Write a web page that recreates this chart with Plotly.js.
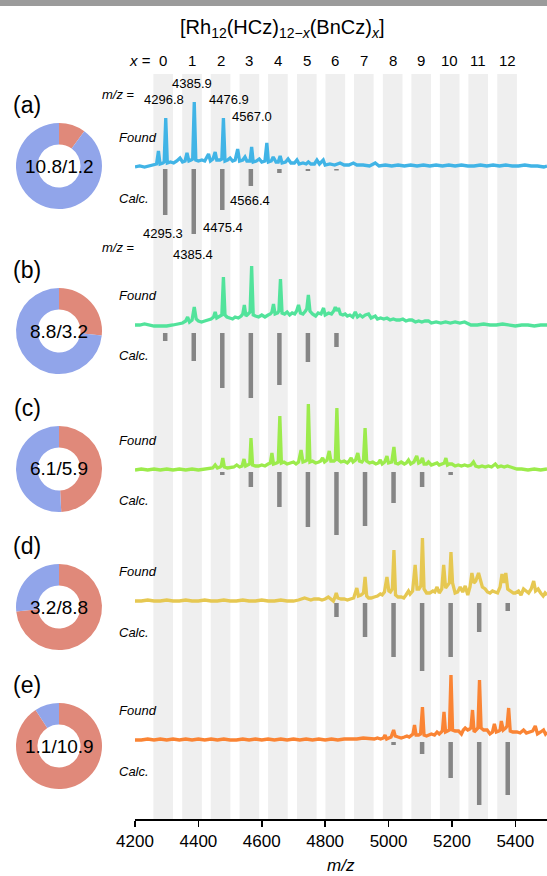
<!DOCTYPE html>
<html><head><meta charset="utf-8">
<script src="https://cdn.plot.ly/plotly-3.0.1.min.js"></script>
<style>html,body{margin:0;padding:0;background:#fff}#chart{width:547px;height:876px}</style>
</head><body><div id="chart"></div>
<script>
// ---------------- DATA ----------------
const compLabels = ["0","1","2","3","4","5","6","7","8","9","10","11","12"];
const bandCenters = [4289,4380,4470,4561,4651,4742,4832,4922,5013,5103,5193,5283,5374];
const calcMz = [4295.3,4385.4,4475.4,4565.5,4655.6,4745.6,4835.7,4925.8,5015.8,5105.9,5196.0,5286.0,5376.1];
const xTicks = [4200,4400,4600,4800,5000,5200,5400];

const calcA = [46,65,41,17,4,2,1.5,0,0,0,0,0,0];
const calcB = [8,28,55,65,52,29,14,0,0,0,0,0,0];
const calcC = [0,0,3,15,35,55,63,54,31,15,3,0,0];
const calcD = [0,0,0,0,0,0,14,34,54,68,54,29,8];
const calcE = [0,0,0,0,0,0,0,0,3,12,36,63,53];

const ratioBlue = [10.8, 8.8, 6.1, 3.2, 1.1];   // HCz
const ratioRed  = [1.2, 3.2, 5.9, 8.8, 10.9];   // BnCz
const panelTags = ["(a)","(b)","(c)","(d)","(e)"];

const foundA = [[4200,0],[4215,1],[4230,0],[4245,1],[4260,2],[4268,3],[4274,16],[4279,3],[4288,4],[4292,5],[4297,49],[4302,4],[4312,5],[4322,4],[4332,6],[4342,9],[4350,5],[4358,6],[4364,14],[4370,6],[4377,7],[4382,8],[4387,65],[4392,7],[4400,6],[4411,7],[4420,6],[4426,9],[4432,13],[4438,6],[4446,8],[4453,15],[4458,7],[4468,7],[4474,8],[4479,49],[4484,6],[4492,7],[4500,9],[4508,6],[4516,7],[4524,18],[4530,6],[4540,7],[4547,10],[4553,6],[4563,6],[4568,20],[4573,5],[4583,6],[4592,8],[4600,5],[4610,6],[4616,24],[4621,5],[4630,6],[4636,10],[4645,5],[4652,5],[4658,11],[4664,4],[4675,5],[4683,8],[4692,4],[4703,4],[4711,7],[4718,3],[4730,4],[4740,3],[4747,5],[4755,3],[4766,3],[4774,7],[4782,3],[4794,7],[4800,2],[4815,3],[4830,2],[4847,4],[4860,2],[4875,2],[4889,4],[4900,2],[4920,2],[4940,1],[4958,4],[4970,1],[4990,2],[5010,1],[5030,2],[5050,1],[5070,2],[5090,1],[5110,2],[5130,1],[5150,2],[5170,1],[5190,2],[5210,1],[5230,2],[5250,1],[5270,1],[5290,2],[5310,1],[5330,2],[5350,1],[5370,2],[5390,1],[5410,1],[5430,2],[5450,1],[5470,1],[5490,0],[5500,1]];

const foundB = [[4200,0],[4215,0],[4230,1],[4245,0],[4260,-1],[4280,-1],[4300,-1],[4320,0],[4335,1],[4350,2],[4360,4],[4366,8],[4372,3],[4380,5],[4387,18],[4393,6],[4400,4],[4410,3],[4420,4],[4432,5],[4440,6],[4448,8],[4453,13],[4458,7],[4466,9],[4474,10],[4479,48],[4484,10],[4490,8],[4500,7],[4508,6],[4516,8],[4526,7],[4535,9],[4540,11],[4545,20],[4550,9],[4557,11],[4563,13],[4568,59],[4573,10],[4580,9],[4590,8],[4600,10],[4610,8],[4620,10],[4627,11],[4632,13],[4637,21],[4642,11],[4650,12],[4654,14],[4659,46],[4664,12],[4672,11],[4680,13],[4688,10],[4696,12],[4704,11],[4710,14],[4716,20],[4722,12],[4730,11],[4738,14],[4742,16],[4747,30],[4752,14],[4760,11],[4770,9],[4778,12],[4787,11],[4795,17],[4800,10],[4811,12],[4820,11],[4827,14],[4832,18],[4837,14],[4842,17],[4848,11],[4856,10],[4863,11],[4870,9],[4878,10],[4887,8],[4895,13],[4902,8],[4910,10],[4918,8],[4927,10],[4937,11],[4945,7],[4952,8],[4958,9],[4965,6],[4975,7],[4985,6],[4995,7],[5005,5],[5015,6],[5025,5],[5035,5],[5045,6],[5055,4],[5065,5],[5074,5],[5085,3],[5095,4],[5105,3],[5115,4],[5126,4],[5135,2],[5150,3],[5165,2],[5180,3],[5195,2],[5210,3],[5225,2],[5240,3],[5253,1],[5260,0],[5280,0],[5300,1],[5320,0],[5340,0],[5360,1],[5380,0],[5400,-1],[5420,0],[5440,0],[5460,-1],[5480,0],[5500,0]];

const foundC = [[4200,0],[4220,1],[4240,0],[4260,1],[4280,0],[4300,1],[4320,0],[4340,1],[4360,0],[4380,1],[4400,0],[4420,1],[4435,2],[4445,2],[4453,5],[4460,2],[4468,3],[4472,4],[4477,12],[4482,3],[4492,2],[4503,3],[4512,3],[4521,5],[4530,3],[4538,4],[4544,11],[4549,4],[4558,5],[4562,6],[4566,32],[4571,5],[4580,4],[4590,4],[4600,5],[4610,4],[4620,6],[4627,7],[4632,17],[4637,6],[4647,7],[4652,8],[4657,54],[4662,7],[4670,8],[4680,6],[4690,7],[4700,8],[4708,6],[4716,8],[4724,20],[4730,8],[4738,9],[4743,10],[4747,66],[4752,8],[4760,9],[4770,7],[4780,8],[4786,9],[4792,12],[4798,8],[4806,10],[4813,19],[4818,9],[4828,9],[4832,10],[4837,62],[4842,10],[4850,8],[4860,9],[4870,7],[4876,9],[4882,12],[4888,8],[4896,10],[4903,17],[4908,9],[4916,8],[4921,10],[4926,42],[4931,9],[4940,7],[4950,8],[4960,6],[4968,7],[4974,10],[4980,6],[4988,8],[4995,14],[5000,7],[5010,8],[5017,23],[5022,7],[5030,6],[5040,8],[5050,6],[5056,7],[5063,10],[5070,6],[5080,8],[5089,14],[5095,7],[5101,8],[5107,12],[5112,6],[5120,6],[5126,8],[5135,5],[5145,6],[5153,7],[5160,5],[5170,6],[5176,7],[5181,12],[5186,5],[5192,6],[5200,6],[5210,4],[5220,5],[5230,4],[5240,5],[5250,4],[5260,5],[5268,8],[5275,4],[5285,3],[5295,4],[5305,3],[5315,4],[5325,3],[5337,6],[5345,3],[5355,4],[5365,3],[5375,4],[5385,3],[5395,2],[5405,1],[5420,1],[5440,0],[5460,1],[5480,0],[5500,1]];

const foundD = [[4200,0],[4220,0],[4240,1],[4260,0],[4280,0],[4300,1],[4320,0],[4340,0],[4360,1],[4380,0],[4400,0],[4420,1],[4440,0],[4460,0],[4480,1],[4500,0],[4520,0],[4540,1],[4560,0],[4580,0],[4600,1],[4620,0],[4640,0],[4660,1],[4680,0],[4700,0],[4716,1],[4725,2],[4735,3],[4745,2],[4755,1],[4765,2],[4780,2],[4790,1],[4800,2],[4810,4],[4818,2],[4826,0],[4830,3],[4835,8],[4840,3],[4850,2],[4860,2],[4870,1],[4880,2],[4890,3],[4900,13],[4905,5],[4913,6],[4921,8],[4926,24],[4931,5],[4937,3],[4945,3],[4955,4],[4965,5],[4974,7],[4980,6],[4987,9],[4995,24],[5001,10],[5006,9],[5012,12],[5017,51],[5022,6],[5030,4],[5040,4],[5048,3],[5055,6],[5063,10],[5068,7],[5076,10],[5084,36],[5090,12],[5096,12],[5102,15],[5107,63],[5112,12],[5120,8],[5130,8],[5140,10],[5146,9],[5153,14],[5160,8],[5168,12],[5174,36],[5180,13],[5186,15],[5192,18],[5197,49],[5202,18],[5210,8],[5218,9],[5226,14],[5234,9],[5242,15],[5250,6],[5257,14],[5263,28],[5269,18],[5275,20],[5284,28],[5290,20],[5296,14],[5305,12],[5312,9],[5320,8],[5328,10],[5336,9],[5344,8],[5352,14],[5358,27],[5364,18],[5370,28],[5376,12],[5386,10],[5394,8],[5400,8],[5410,10],[5418,6],[5426,12],[5434,10],[5442,8],[5450,12],[5458,20],[5464,10],[5472,12],[5480,8],[5488,5],[5494,8],[5500,6]];

const foundE = [[4200,0],[4220,0],[4240,1],[4260,0],[4280,1],[4300,0],[4320,1],[4340,0],[4360,1],[4380,0],[4400,1],[4420,0],[4440,1],[4460,0],[4480,1],[4500,0],[4520,0],[4540,1],[4560,0],[4580,1],[4600,0],[4620,1],[4640,0],[4660,1],[4680,0],[4700,1],[4720,0],[4740,1],[4760,0],[4780,1],[4800,0],[4820,1],[4840,0],[4860,1],[4880,1],[4900,1],[4920,2],[4940,1],[4955,1],[4965,2],[4975,1],[4984,2],[4989,5],[4994,1],[5000,2],[5008,3],[5016,10],[5021,4],[5030,3],[5040,2],[5050,3],[5058,4],[5065,3],[5072,5],[5077,6],[5082,15],[5087,5],[5095,5],[5101,6],[5107,33],[5112,5],[5120,4],[5126,5],[5135,6],[5145,5],[5153,8],[5160,6],[5165,8],[5170,9],[5175,28],[5180,8],[5186,9],[5192,10],[5197,66],[5202,10],[5210,9],[5221,9],[5230,6],[5236,10],[5242,12],[5250,10],[5256,11],[5260,12],[5265,30],[5270,8],[5276,10],[5282,12],[5287,60],[5292,12],[5300,10],[5311,10],[5320,6],[5328,8],[5334,16],[5340,8],[5348,9],[5352,10],[5356,19],[5362,10],[5370,12],[5374,14],[5379,32],[5384,9],[5392,8],[5405,8],[5415,7],[5426,10],[5435,7],[5445,8],[5455,9],[5463,14],[5470,6],[5480,8],[5489,10],[5495,6],[5500,8]];

// ---------------- LAYOUT / STYLE ----------------
const W = 547, H = 876;
const px = v => v / W, py = v => 1 - v / H;
const FONT = "Liberation Sans, Arial, Helvetica, sans-serif";
const panels = [
  {found: foundA, calc: calcA, color: "#41b4e6", base: 167, top: 80,  bot: 245, off: 2},
  {found: foundB, calc: calcB, color: "#52e39b", base: 325, top: 245, bot: 400, off: 8},
  {found: foundC, calc: calcC, color: "#9ceb4c", base: 470, top: 400, bot: 538, off: 2},
  {found: foundD, calc: calcD, color: "#e6c852", base: 601, top: 538, bot: 675, off: 2},
  {found: foundE, calc: calcE, color: "#fa8434", base: 740, top: 675, bot: 815, off: 2}
];
const donutCY = [166, 331, 469, 607, 746];
const donutCX = 59, donutR = 43;

const traces = [], annotations = [], shapes = [];
const layout = {
  width: W, height: H, margin: {l:0, r:0, t:0, b:0},
  paper_bgcolor: "#fff", plot_bgcolor: "rgba(0,0,0,0)", showlegend: false,
  font: {family: FONT, color: "#000"},
  xaxis: {domain: [px(135), 1], range: [4200, 5500], anchor: "free", position: py(819),
          showline: true, linecolor: "#000", linewidth: 1.6, ticks: "outside", ticklen: 6,
          tickwidth: 1.6, tickcolor: "#000", tickvals: xTicks, ticktext: xTicks.map(String),
          tickfont: {size: 17, family: FONT}, showgrid: false, zeroline: false, fixedrange: true}
};

panels.forEach((p, i) => {
  const ya = "yaxis" + (i === 0 ? "" : (i + 1));
  const yref = "y" + (i === 0 ? "" : (i + 1));
  layout[ya] = {domain: [py(p.bot), py(p.top)], range: [-(p.bot - p.base), p.base - p.top],
                visible: false, fixedrange: true};
  // found spectrum
  traces.push({type: "scatter", mode: "lines", xaxis: "x", yaxis: yref,
    x: p.found.map(d => d[0]), y: p.found.map(d => d[1]),
    line: {color: p.color, width: 3.3}, hoverinfo: "skip"});
  // calculated pattern (downwards)
  const cx = [], cy = [];
  p.calc.forEach((v, k) => { if (v > 0) { cx.push(calcMz[k], calcMz[k], null); cy.push(-p.off, -(p.off + v), null); } });
  traces.push({type: "scatter", mode: "lines", xaxis: "x", yaxis: yref, x: cx, y: cy,
    line: {color: "#858585", width: 4.5}, hoverinfo: "skip"});
  // donut
  const cyD = donutCY[i];
  traces.push({type: "pie", values: [ratioRed[i], ratioBlue[i]], sort: false, direction: "clockwise",
    rotation: 0, hole: 0.5, marker: {colors: ["#e0897a", "#91a5ea"], line: {width: 0}},
    textinfo: "none", hoverinfo: "skip",
    domain: {x: [px(donutCX - donutR), px(donutCX + donutR)], y: [py(cyD + donutR), py(cyD - donutR)]}});
  annotations.push({xref: "paper", yref: "paper", x: px(donutCX), y: py(cyD), text: ratioBlue[i] + "/" + ratioRed[i],
    showarrow: false, xanchor: "center", yanchor: "middle", font: {size: 19, family: FONT, color: "#000"}});
  annotations.push({xref: "paper", yref: "paper", x: px(27), y: py(cyD - 61), text: panelTags[i],
    showarrow: false, xanchor: "center", yanchor: "middle", font: {size: 23, family: FONT, color: "#000"}});
  annotations.push({xref: "paper", yref: "paper", x: px(117), y: py(p.base - 30), text: "<i>Found</i>",
    showarrow: false, xanchor: "left", yanchor: "middle", font: {size: 13, family: FONT, color: "#000"}});
  annotations.push({xref: "paper", yref: "paper", x: px(117), y: py(p.base + 31), text: "<i>Calc.</i>",
    showarrow: false, xanchor: "left", yanchor: "middle", font: {size: 13, family: FONT, color: "#000"}});
});

// composition bands
bandCenters.forEach((c, k) => {
  shapes.push({type: "rect", xref: "x", yref: "paper", x0: c - 31, x1: c + 31, y0: py(819), y1: py(74),
    fillcolor: "#efefef", line: {width: 0}, layer: "below"});
  annotations.push({xref: "x", yref: "paper", x: c, y: py(61), text: compLabels[k], showarrow: false,
    xanchor: "center", yanchor: "middle", font: {size: 15, family: FONT, color: "#000"}});
});
// top grey strip
shapes.push({type: "rect", xref: "paper", yref: "paper", x0: 0, x1: 1, y0: py(6), y1: 1,
  fillcolor: "#9b9b9b", line: {width: 0}, layer: "above"});

annotations.push({xref: "paper", yref: "paper", x: px(153), y: py(61), text: "<i>x</i> =", showarrow: false,
  xanchor: "right", yanchor: "middle", font: {size: 15, family: FONT, color: "#000"}});
annotations.push({xref: "paper", yref: "paper", x: px(282), y: py(28),
  text: "[Rh<sub>12</sub>(HCz)<sub>12\u2212<i>x</i></sub>(BnCz)<sub><i>x</i></sub>]", showarrow: false,
  xanchor: "center", yanchor: "middle", font: {size: 20, family: FONT, color: "#000"}});
annotations.push({xref: "paper", yref: "paper", x: px(341), y: py(865), text: "<i>m/z</i>", showarrow: false,
  xanchor: "center", yanchor: "middle", font: {size: 17, family: FONT, color: "#000"}});

// peak labels in panel (a)
const peakLabels = [
  ["<i>m/z</i> =", 118, 94], ["4296.8", 164, 99], ["4385.9", 192, 84], ["4476.9", 229, 99], ["4567.0", 252, 117],
  ["4566.4", 250, 200], ["4295.3", 163, 233], ["4475.4", 223, 227], ["4385.4", 193, 255], ["<i>m/z</i> =", 118, 247]
];
peakLabels.forEach(l => annotations.push({xref: "paper", yref: "paper", x: px(l[1]), y: py(l[2]), text: l[0],
  showarrow: false, xanchor: "center", yanchor: "middle", font: {size: 13, family: FONT, color: "#000"}}));

layout.annotations = annotations;
layout.shapes = shapes;
Plotly.newPlot("chart", traces, layout, {staticPlot: true, displayModeBar: false});
</script></body></html>
